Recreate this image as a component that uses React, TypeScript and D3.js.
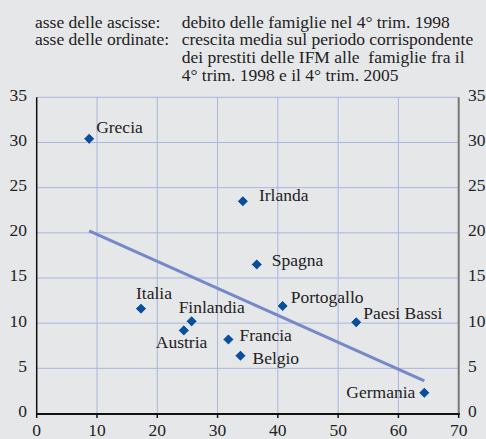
import React from "react";
import * as d3 from "d3";

const countries = ["Grecia", "Irlanda", "Spagna", "Portogallo", "Paesi Bassi", "Italia", "Finlandia", "Austria", "Francia", "Belgio", "Germania"];
const debt = [8.7, 34.2, 36.5, 40.8, 53.0, 17.3, 25.7, 24.4, 31.8, 33.8, 64.3];
const growth = [30.4, 23.5, 16.5, 11.9, 10.1, 11.6, 10.2, 9.2, 8.2, 6.4, 2.3];
const xTicks = [0, 10, 20, 30, 40, 50, 60, 70];
const yTicks = [0, 5, 10, 15, 20, 25, 30, 35];
const headerLeft = ["asse delle ascisse:", "asse delle ordinate:"];
const headerRight = [
  "debito delle famiglie nel 4° trim. 1998",
  "crescita media sul periodo corrispondente",
  "dei prestiti delle IFM alle  famiglie fra il",
  "4° trim. 1998 e il 4° trim. 2005",
];

// label placement (style)
const labelOffsets: [number, number, string][] = [
  [7, -6, "start"],
  [16, 0, "start"],
  [15, 2, "start"],
  [8, -3, "start"],
  [7, -3, "start"],
  [-5, -10, "start"],
  [-13, -8, "start"],
  [-28, 18, "start"],
  [11, 2, "start"],
  [12, 8, "start"],
  [-9, 5, "end"],
];

const W = 486;
const H = 439;
const FONT = "'Liberation Serif', 'Times New Roman', serif";

export default function App() {
  const x = d3.scaleLinear().domain([0, 70]).range([36.7, 458.7]);
  const y = d3.scaleLinear().domain([0, 35]).range([413.5, 97.3]);

  const mx = d3.mean(debt)!;
  const my = d3.mean(growth)!;
  let sxy = 0, sxx = 0;
  debt.forEach((d, i) => {
    sxy += (d - mx) * (growth[i] - my);
    sxx += (d - mx) * (d - mx);
  });
  const slope = sxy / sxx;
  const icpt = my - slope * mx;
  const [x0, x1] = d3.extent(debt) as [number, number];
  const line = d3.line<number>().x((d) => x(d)).y((d) => y(icpt + slope * d));

  const diamond = d3.symbol().type(d3.symbolDiamond2).size(78)()!;

  const gridColor = "#a9b5dc";
  const textColor = "#222";

  return (
    <svg width={W} height={H} style={{ position: "absolute", left: 0, top: 0 }} fontFamily={FONT}>
      <rect x={0} y={0} width={W} height={H} fill="#e6e7e9" />
      {headerLeft.map((t, i) => (
        <text key={"hl" + i} x={35} y={27.5 + i * 17.6} fontSize={17.5} fill={textColor}>{t}</text>
      ))}
      {headerRight.map((t, i) => (
        <text key={"hr" + i} x={181.7} y={27.5 + i * 17.8} fontSize={17.5} fill={textColor} style={{ whiteSpace: "pre" }}>{t}</text>
      ))}
      {/* grid */}
      {xTicks.filter((t) => t > 0 && t < 70).map((t) => (
        <line key={"gx" + t} x1={x(t)} x2={x(t)} y1={y(35)} y2={y(0)} stroke={gridColor} strokeWidth={1} />
      ))}
      {yTicks.filter((t) => t > 0).map((t) => (
        <line key={"gy" + t} x1={x(0)} x2={x(70)} y1={y(t)} y2={y(t)} stroke={gridColor} strokeWidth={1} />
      ))}
      {/* axes */}
      <line x1={x(0)} x2={x(0)} y1={y(35)} y2={y(0)} stroke="#111" strokeWidth={1.5} />
      <line x1={x(70)} x2={x(70)} y1={y(35)} y2={y(0)} stroke="#777" strokeWidth={2} />
      <line x1={x(0) - 0.75} x2={x(70) + 1} y1={y(0) + 0.5} y2={y(0) + 0.5} stroke="#111" strokeWidth={2} />
      {xTicks.map((t) => (
        <line key={"tx" + t} x1={x(t)} x2={x(t)} y1={y(0)} y2={y(0) + 4.5} stroke="#111" strokeWidth={1.5} />
      ))}
      {yTicks.map((t) => (
        <text key={"yl" + t} x={27} y={y(t) + 3.5} fontSize={17.5} textAnchor="end" fill={textColor}>{t}</text>
      ))}
      {yTicks.map((t) => (
        <text key={"yr" + t} x={468} y={y(t) + 3.5} fontSize={17.5} textAnchor="start" fill={textColor}>{t}</text>
      ))}
      {xTicks.map((t) => (
        <text key={"xl" + t} x={x(t)} y={436} fontSize={17.5} textAnchor="middle" fill={textColor}>{t}</text>
      ))}
      {/* regression */}
      <path d={line([x0, x1])!} stroke="#7589c9" strokeWidth={3} fill="none" />
      {/* points */}
      {countries.map((c, i) => (
        <path key={"p" + c} d={diamond} transform={`translate(${x(debt[i])},${y(growth[i])})`} fill="#0a4e9c" stroke="#ffffff" strokeWidth={0.8} />
      ))}
      {countries.map((c, i) => (
        <text key={"l" + c} x={x(debt[i]) + labelOffsets[i][0]} y={y(growth[i]) + labelOffsets[i][1]} fontSize={17.5} textAnchor={labelOffsets[i][2] as any} fill={textColor}>{c}</text>
      ))}
    </svg>
  );
}
